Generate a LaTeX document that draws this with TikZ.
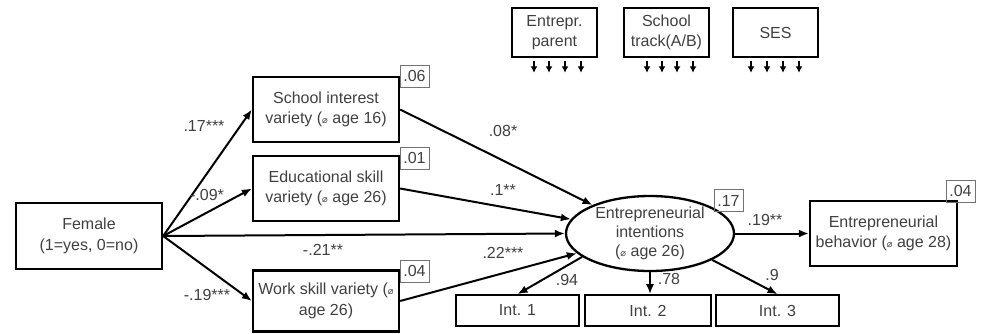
\documentclass[tikz,border=0pt]{standalone}
\usepackage{fontspec}
\setmainfont{Liberation Sans}
\newfontfamily\dvfont{DejaVu Sans}
\usetikzlibrary{arrows.meta,shapes.geometric}
\newcommand{\diam}{{\dvfont\fontsize{9.5}{9.5}\selectfont ⌀}}
\begin{document}
\begin{tikzpicture}[x=1pt,y=-1pt,
  every node/.style={font=\fontsize{16}{20.5}\selectfont, text=black!75},
  box/.style={draw=black, line width=2.3pt, minimum width=146pt, minimum height=65pt, align=center, inner sep=1pt},
  rbox/.style={draw=black!55, line width=0.9pt, minimum width=29pt, minimum height=22pt, inner sep=1pt},
  ibox/.style={draw=black, line width=1.6pt, minimum height=31pt, inner sep=1pt},
  topbox/.style={draw=black, line width=1.6pt, minimum width=85pt, minimum height=49pt, align=center, inner sep=1pt},
  arr/.style={draw=black, line width=2pt, -{Latex[length=10pt,width=8pt]}},
  tarr/.style={draw=black, line width=1.6pt, -{Latex[length=6.5pt,width=7pt]}},
  lbl/.style={inner sep=0pt}]
\useasboundingbox (0,0) rectangle (984,333);

% main nodes
\node[box, minimum height=66pt] (fem) at (89,236) {Female\\(1=yes, 0=no)};
\node[box] (sch) at (326,109.5) {School interest\\variety (\diam\ age 16)};
\node[box] (edu) at (326,188.5) {Educational skill\\variety (\diam\ age 26)};
\node[box, minimum height=61pt] (wrk) at (326,301) {Work skill variety (\diam\\age 26)};
\node[ellipse, draw=black, line width=2.3pt, minimum width=168pt, minimum height=75pt, inner sep=0pt, align=center, font=\fontsize{16}{19}\selectfont] (ell) at (650,233.5) {Entrepreneurial\\intentions\\(\diam\ age 26)};
\node[box, minimum width=147pt] (beh) at (883.5,233.5) {Entrepreneurial\\behavior (\diam\ age 28)};

% indicator boxes
\node[ibox, minimum width=123pt] (i1) at (517.5,310.5) {Int. 1};
\node[ibox, minimum width=126pt] (i2) at (648,310.5) {Int. 2};
\node[ibox, minimum width=123pt] (i3) at (777.5,310.5) {Int. 3};

% control boxes
\node[topbox] (ep) at (554.5,32.5) {Entrepr.\\parent};
\node[topbox] (st) at (666.5,32.5) {School\\track(A/B)};
\node[topbox] (ses) at (775.5,32.5) {SES};

% R^2 boxes
\node[rbox] (r1) at (414.5,76) {.06};
\node[rbox] (r2) at (414.5,158) {.01};
\node[rbox] (r3) at (414.5,271) {.04};
\node[rbox] (r4) at (728.5,200.5) {.17};
\node[rbox] (r5) at (960.5,191) {.04};

% control arrows
\foreach \x in {534,549,565,581} \draw[tarr] (ep.south -| \x,0) ++(0,3) -- ++(0,12);
\foreach \x in {647,662,677,693} \draw[tarr] (st.south -| \x,0) ++(0,3) -- ++(0,12);
\foreach \x in {751,767,783,799} \draw[tarr] (ses.south -| \x,0) ++(0,3) -- ++(0,12);

% paths
\draw[arr] (fem.east) -- (sch.west);
\draw[arr] (fem.east) -- (edu.west);
\draw[arr] (fem.east) -- (ell.west);
\draw[arr] (fem.east) -- (wrk.west);
\draw[arr] (sch.east) -- (ell);
\draw[arr] (edu.east) -- (ell);
\draw[arr] (wrk.east) -- (ell);
\draw[arr] (ell.east) -- (beh.west);
\draw[arr] (ell.199) -- (i1.north);
\draw[arr] (ell.south) -- (ell.south |- i2.north);
\draw[arr] (ell.337) -- (i3.north);

% coefficient labels
\node[lbl] (c1) at (204,126) {.17***};
\node[lbl] (c2) at (207,195) {-.09*};
\node[lbl] (c3) at (323,250) {-.21**};
\node[lbl] (c4) at (207,295) {-.19***};
\node[lbl] (c5) at (503,131) {.08*};
\node[lbl] (c6) at (503,190) {.1**};
\node[lbl] (c7) at (503,253) {.22***};
\node[lbl] (c8) at (765,220) {.19**};
\node[lbl] (c9) at (567,280) {.94};
\node[lbl] (c10) at (669,279) {.78};
\node[lbl] (c11) at (772,275) {.9};
\end{tikzpicture}
\end{document}
